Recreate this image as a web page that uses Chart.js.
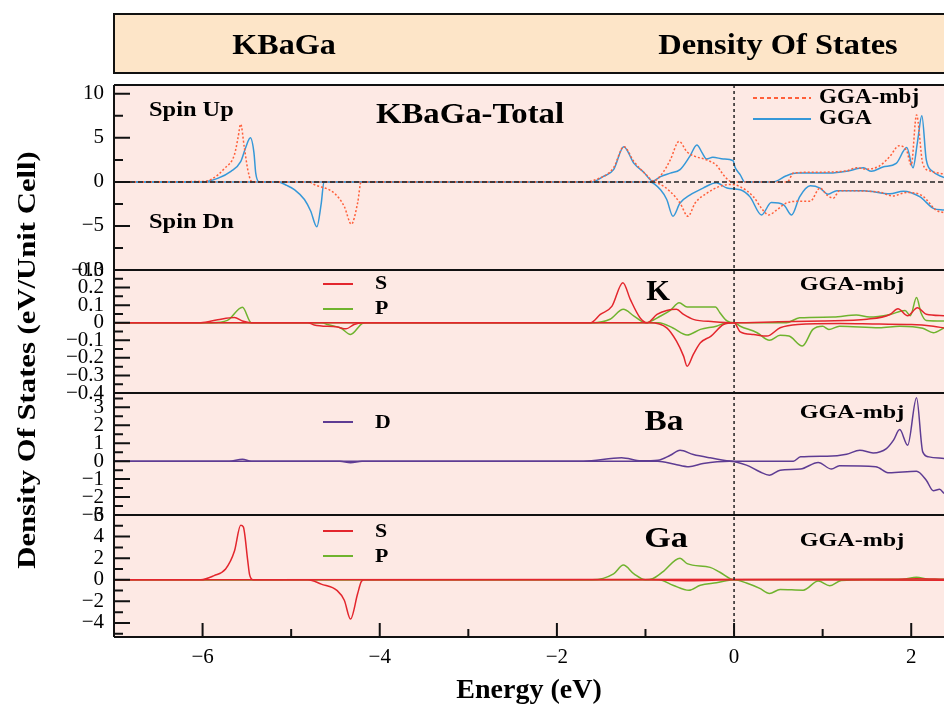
<!DOCTYPE html>
<html>
<head>
<meta charset="utf-8">
<script src="https://cdn.jsdelivr.net/npm/chart.js@4.4.1/dist/chart.umd.min.js"></script>
<style>
  html, body { margin: 0; padding: 0; background: #fff; }
  canvas { display: block; }
</style>
</head>
<body>
<canvas id="dosChart" width="944" height="712"></canvas>
<script>
// tick labels
const energyTicks = [-6, -4, -2, 0, 2];
const totalTicks = [-10, -5, 0, 5, 10];
const kTicks = [-0.4, -0.3, -0.2, -0.1, 0, 0.1, 0.2, 0.3];
const baTicks = [-3, -2, -1, 0, 1, 2, 3];
const gaTicks = [-4, -2, 0, 2, 4, 6];

// KBaGa total DOS - GGA (spin up / spin down)
const ggaUpE = [-7, -6.0, -5.83, -5.68, -5.57, -5.51, -5.46, -5.42, -5.40, -5.36, -1.6, -1.48, -1.36, -1.245, -1.13, -1.02, -0.92, -0.83, -0.72, -0.61, -0.5, -0.42, -0.36, -0.31, -0.24, -0.12, -0.01, 0.01, 0.07, 0.12, 0.44, 0.59, 0.71, 1.08, 1.27, 1.46, 1.55, 1.68, 1.83, 1.95, 2.02, 2.07, 2.12, 2.17, 2.24, 2.37];
const ggaUpV = [0, 0, 0.4, 1.2, 2.3, 4.0, 5.0, 3.3, 1.0, 0, 0, 0.6, 1.4, 4.0, 2.1, 1.1, 0.1, 0.6, 1.0, 1.4, 2.9, 4.2, 3.3, 2.6, 2.8, 2.6, 2.4, 1.7, 0.8, 0, 0, 0.7, 1.0, 1.0, 1.2, 1.6, 1.2, 1.7, 2.1, 3.9, 1.6, 4.5, 7.5, 2.5, 1.2, 0.5];
const ggaDnE = [-7, -5.15, -5.05, -4.96, -4.85, -4.78, -4.71, -4.66, -4.63, -0.95, -0.83, -0.76, -0.69, -0.61, -0.5, -0.35, -0.2, -0.08, 0.07, 0.18, 0.31, 0.42, 0.56, 0.65, 0.74, 0.86, 0.97, 1.06, 1.16, 1.46, 1.76, 1.91, 2.1, 2.25, 2.37];
const ggaDnV = [0, 0, -0.4, -0.9, -2.0, -3.3, -5.1, -2.4, 0, 0, -0.9, -2.0, -3.9, -2.4, -1.5, -0.7, -0.1, -0.7, -0.9, -1.7, -3.75, -2.35, -2.6, -3.75, -1.7, -0.45, -0.7, -1.4, -1.0, -1.0, -1.35, -1.05, -1.7, -3.0, -3.2];

// KBaGa total DOS - GGA-mbj
const mbjUpE = [-7, -6.0, -5.9, -5.75, -5.64, -5.6, -5.57, -5.53, -5.49, -5.45, -5.4, -1.7, -1.55, -1.36, -1.245, -1.13, -0.98, -0.91, -0.8, -0.72, -0.62, -0.53, -0.44, -0.31, -0.2, -0.12, -0.05, 0, 0.6, 0.67, 0.91, 1.27, 1.38, 1.5, 1.64, 1.76, 1.86, 1.95, 2.0, 2.06, 2.13, 2.21, 2.37];
const mbjUpV = [0, 0.05, 0.3, 1.55, 3.1, 5.0, 6.55, 4.0, 1.4, 0.1, 0, 0, 0.3, 1.6, 4.0, 2.3, 0.7, 0.1, 1.1, 2.5, 4.6, 3.4, 2.9, 2.5, 1.9, 0.8, 0.1, 0, 0, 1.0, 1.1, 1.25, 1.6, 1.45, 1.8, 2.9, 4.1, 3.5, 1.9, 7.6, 2.1, 1.25, 0.9];
const mbjDnE = [-7, -4.8, -4.74, -4.51, -4.4, -4.32, -4.25, -4.21, -0.95, -0.87, -0.72, -0.61, -0.52, -0.44, -0.31, -0.16, -0.03, 0.07, 0.22, 0.31, 0.39, 0.48, 0.59, 0.74, 0.86, 0.97, 1.05, 1.12, 1.19, 1.64, 1.79, 1.95, 2.13, 2.28, 2.37];
const mbjDnV = [0, 0, -0.3, -1.3, -2.8, -4.8, -2.4, 0, 0, -0.1, -1.1, -2.4, -3.9, -2.4, -1.3, -0.5, -0.3, -0.55, -1.7, -3.0, -3.75, -3.2, -2.4, -2.2, -2.2, -0.7, -1.5, -1.85, -1.0, -1.15, -1.6, -1.2, -1.6, -3.2, -3.5];

// K partial DOS (GGA-mbj)
const kSUpE = [-7, -6.02, -5.83, -5.64, -5.55, -5.45, -1.62, -1.51, -1.38, -1.255, -1.17, -1.06, -0.98, -0.87, -0.76, -0.65, -0.57, -0.46, -0.23, 0, 0.5, 1.0, 1.5, 1.76, 1.85, 1.96, 2.07, 2.17, 2.37];
const kSUpV = [0, 0, 0.017, 0.03, 0.01, 0, 0, 0.047, 0.093, 0.228, 0.131, 0.027, 0, 0.047, 0.07, 0.076, 0.047, 0.019, 0.006, 0, 0.005, 0.01, 0.02, 0.047, 0.08, 0.04, 0.085, 0.048, 0.04];
const kSDnE = [-7, -4.81, -4.74, -4.48, -4.38, -4.29, -4.2, -0.95, -0.76, -0.65, -0.57, -0.53, -0.46, -0.38, -0.26, -0.12, 0, 0.07, 0.22, 0.37, 0.52, 0.72, 1.2, 1.64, 2.0, 2.25, 2.37];
const kSDnV = [0, 0, -0.013, -0.025, -0.035, -0.01, 0, 0, -0.029, -0.105, -0.19, -0.248, -0.18, -0.114, -0.076, -0.01, 0, -0.052, -0.067, -0.076, -0.029, -0.01, -0.005, -0.008, -0.01, -0.02, -0.03];
const kPUpE = [-7, -5.9, -5.72, -5.55, -5.45, -1.6, -1.4, -1.25, -1.13, -1.0, -0.83, -0.72, -0.62, -0.53, -0.21, -0.16, -0.08, 0, 0.59, 0.74, 1.12, 1.38, 1.53, 1.76, 1.93, 1.99, 2.06, 2.11, 2.17, 2.37];
const kPUpV = [0, 0, 0.013, 0.088, 0, 0, 0.02, 0.076, 0.038, 0, 0.038, 0.07, 0.114, 0.09, 0.09, 0.057, 0.01, 0, 0, 0.028, 0.032, 0.044, 0.032, 0.047, 0.07, 0.04, 0.143, 0.057, 0.013, 0.01];
const kPDnE = [-7, -4.65, -4.59, -4.44, -4.33, -4.2, -4.15, -0.85, -0.69, -0.53, -0.38, -0.2, -0.08, 0, 0.07, 0.26, 0.4, 0.52, 0.62, 0.77, 0.89, 1.0, 1.07, 1.19, 1.64, 1.87, 2.13, 2.25, 2.37];
const kPDnV = [0, 0, -0.01, -0.03, -0.067, -0.005, 0, 0, -0.03, -0.07, -0.038, -0.02, 0, 0, -0.02, -0.057, -0.1, -0.072, -0.076, -0.133, -0.038, -0.02, -0.038, -0.02, -0.029, -0.02, -0.032, -0.057, -0.029];

// Ba partial DOS (GGA-mbj)
const baDUpE = [-7, -5.7, -5.55, -5.45, -1.7, -1.27, -1.05, -0.86, -0.72, -0.61, -0.46, -0.27, 0, 0.67, 0.75, 1.05, 1.27, 1.42, 1.57, 1.72, 1.8, 1.87, 1.96, 2.06, 2.13, 2.2, 2.37];
const baDUpV = [0, 0, 0.11, 0, 0, 0.19, 0.02, 0.05, 0.33, 0.61, 0.37, 0.19, 0, 0, 0.24, 0.28, 0.39, 0.61, 0.46, 0.7, 1.17, 1.76, 0.89, 3.54, 0.52, 0.24, 0.15];
const baDDnE = [-7, -4.45, -4.33, -4.2, -0.86, -0.67, -0.51, -0.35, -0.05, 0.14, 0.29, 0.4, 0.52, 0.75, 0.95, 1.1, 1.19, 1.6, 1.75, 2.06, 2.17, 2.25, 2.32, 2.37];
const baDDnV = [0, 0, -0.09, 0, 0, -0.17, -0.31, -0.13, 0, -0.22, -0.59, -0.78, -0.5, -0.44, -0.07, -0.44, -0.26, -0.31, -0.65, -0.56, -1.06, -1.65, -1.57, -1.8];

// Ga partial DOS (GGA-mbj)
const gaSUpE = [-7, -6.02, -5.87, -5.74, -5.64, -5.57, -5.54, -5.49, -5.47, -5.43, 1.8, 2.06, 2.37];
const gaSUpV = [0, 0, 0.39, 1.0, 2.66, 5.06, 4.9, 1.75, 0.5, 0, 0.05, 0.1, 0.05];
const gaSDnE = [-7, -4.81, -4.66, -4.48, -4.4, -4.33, -4.25, -4.21, -4.18, -1.0, -0.5, 0, 2.37];
const gaSDnV = [0, 0, -0.4, -1.0, -1.9, -3.64, -1.3, -0.2, 0, 0, -0.08, 0, -0.05];
const gaPUpE = [-7, -1.6, -1.36, -1.25, -1.13, -1.0, -0.92, -0.81, -0.61, -0.53, -0.27, -0.16, 0, 1.9, 2.06, 2.2, 2.37];
const gaPUpV = [0, 0, 0.55, 1.36, 0.55, 0, 0.1, 0.7, 2.0, 1.5, 1.15, 0.7, 0, 0.05, 0.24, 0.05, 0.05];
const gaPDnE = [-7, -0.85, -0.69, -0.51, -0.38, -0.2, 0, 0.14, 0.29, 0.4, 0.52, 0.78, 0.95, 1.08, 1.21, 1.5, 2.37];
const gaPDnV = [0, 0, -0.5, -0.97, -0.5, -0.27, 0, -0.3, -0.8, -1.27, -0.9, -0.97, -0.12, -0.55, -0.06, 0, -0.05];

const BLUE = '#3598d8';
const ORANGE = '#ff5f3a';
const RED = '#e3262d';
const GREEN = '#6fb32e';
const PURPLE = '#5e3c93';
const SERIF = "'Liberation Serif', 'DejaVu Serif', serif";

const pts = (es, vs) => es.map((e, i) => ({ x: e, y: vs[i] }));

function line(es, vs, color, axis, dash) {
  return {
    data: pts(es, vs),
    yAxisID: axis,
    borderColor: color,
    borderWidth: 1.5,
    borderDash: dash || [],
    pointRadius: 0,
    fill: false,
    cubicInterpolationMode: 'monotone'
  };
}

const fmt = v => {
  const r = Math.round(v * 10) / 10;
  return r < 0 ? '\u2212' + Math.abs(r) : String(r);
};

const tickFont = { family: SERIF, size: 21 };

function yScale(min, max, ticks, weight) {
  return {
    type: 'linear',
    position: 'left',
    stack: 'dos',
    stackWeight: weight,
    min: min,
    max: max,
    afterBuildTicks: s => { s.ticks = ticks.map(v => ({ value: v })); },
    afterFit: s => { s.width = 114; },
    grid: { display: false, drawTicks: false },
    border: { display: false },
    ticks: { font: tickFont, color: '#000', padding: 10, autoSkip: false, callback: fmt }
  };
}

function inwardTicks(ctx, scale, axisPos, minor, major, lenMajor, lenMinor, vertical) {
  const start = Math.ceil(scale.min / minor - 1e-6) * minor;
  ctx.beginPath();
  for (let v = start; v <= scale.max + 1e-6; v += minor) {
    const isMajor = Math.abs(v / major - Math.round(v / major)) < 1e-6;
    const len = isMajor ? lenMajor : lenMinor;
    const p = scale.getPixelForValue(v);
    if (vertical) {
      ctx.moveTo(axisPos, p);
      ctx.lineTo(axisPos + len, p);
    } else {
      ctx.moveTo(p, axisPos);
      ctx.lineTo(p, axisPos - len);
    }
  }
  ctx.stroke();
}

// bold serif text, sx widens it like the stretched original figure
function text(ctx, str, x, y, size, align, sx) {
  ctx.save();
  ctx.translate(x, y);
  ctx.scale(sx || 1, 1);
  ctx.font = 'bold ' + size + 'px ' + SERIF;
  ctx.textAlign = align || 'left';
  ctx.textBaseline = 'middle';
  ctx.fillText(str, 0, 0);
  ctx.restore();
}

function legendLine(ctx, x1, x2, y, color, dash) {
  ctx.save();
  ctx.strokeStyle = color;
  ctx.lineWidth = 2;
  ctx.setLineDash(dash || []);
  ctx.beginPath();
  ctx.moveTo(x1, y);
  ctx.lineTo(x2, y);
  ctx.stroke();
  ctx.restore();
}

const dosFrame = {
  id: 'dosFrame',
  beforeDraw(chart) {
    const { ctx, chartArea: a } = chart;
    ctx.save();
    ctx.fillStyle = '#fff';
    ctx.fillRect(0, 0, chart.width, chart.height);
    // header banner
    ctx.fillStyle = '#fde5c8';
    ctx.fillRect(114, 14, 840, 59);
    ctx.strokeStyle = '#111';
    ctx.lineWidth = 2;
    ctx.strokeRect(114, 14, 840, 59);
    ctx.fillStyle = '#000';
    text(ctx, 'KBaGa', 284, 46, 30, 'center', 1.07);
    text(ctx, 'Density Of States', 778, 46, 30, 'center', 1.08);
    // panel background
    ctx.fillStyle = '#fde9e4';
    ctx.fillRect(a.left, a.top, a.right - a.left, a.bottom - a.top);
    ctx.restore();
  },
  afterDatasetsDraw(chart) {
    const { ctx, chartArea: a, scales } = chart;
    const x = scales.x;
    ctx.save();
    ctx.strokeStyle = '#222';
    ctx.lineWidth = 1.5;
    // zero line in total panel
    ctx.setLineDash([5, 3]);
    const y0 = scales.yTot.getPixelForValue(0);
    ctx.beginPath();
    ctx.moveTo(a.left, y0);
    ctx.lineTo(a.right, y0);
    ctx.stroke();
    // Fermi level
    ctx.setLineDash([3, 3]);
    const xf = x.getPixelForValue(0);
    ctx.beginPath();
    ctx.moveTo(xf, a.top);
    ctx.lineTo(xf, a.bottom);
    ctx.stroke();
    ctx.setLineDash([]);

    // panel frames
    ctx.strokeStyle = '#111';
    ctx.lineWidth = 2;
    const panels = [scales.yTot, scales.yK, scales.yBa, scales.yGa];
    ctx.beginPath();
    panels.forEach(s => {
      ctx.moveTo(a.left, s.top);
      ctx.lineTo(a.right, s.top);
      ctx.moveTo(a.left, s.bottom);
      ctx.lineTo(a.right, s.bottom);
    });
    ctx.moveTo(a.left, a.top);
    ctx.lineTo(a.left, a.bottom);
    ctx.stroke();

    // inward ticks
    inwardTicks(ctx, scales.yTot, a.left, 2.5, 5, 16, 9, true);
    inwardTicks(ctx, scales.yK, a.left, 0.05, 0.1, 16, 9, true);
    inwardTicks(ctx, scales.yBa, a.left, 0.5, 1, 16, 9, true);
    inwardTicks(ctx, scales.yGa, a.left, 1, 2, 16, 9, true);
    inwardTicks(ctx, x, a.bottom, 1, 2, 14, 8, false);

    // annotations
    ctx.fillStyle = '#000';
    text(ctx, 'Spin Up', 149, 111, 20, 'left', 1.22);
    text(ctx, 'Spin Dn', 149, 223, 20, 'left', 1.22);
    text(ctx, 'KBaGa-Total', 470, 116, 29, 'center', 1.13);
    legendLine(ctx, 753, 811, 98, ORANGE, [4, 3]);
    legendLine(ctx, 753, 811, 119, BLUE);
    text(ctx, 'GGA-mbj', 819, 98, 21, 'left', 1.1);
    text(ctx, 'GGA', 819, 119, 21, 'left', 1.1);

    legendLine(ctx, 323, 353, 284, RED);
    legendLine(ctx, 323, 353, 309, GREEN);
    text(ctx, 'S', 375, 284, 19, 'left', 1.15);
    text(ctx, 'P', 375, 309, 19, 'left', 1.15);
    text(ctx, 'K', 658, 293, 29, 'center', 1.05);
    text(ctx, 'GGA-mbj', 852, 285, 19, 'center', 1.27);

    legendLine(ctx, 323, 353, 422, PURPLE);
    text(ctx, 'D', 375, 423, 19, 'left', 1.15);
    text(ctx, 'Ba', 664, 423, 29, 'center', 1.15);
    text(ctx, 'GGA-mbj', 852, 413, 19, 'center', 1.27);

    legendLine(ctx, 323, 353, 531, RED);
    legendLine(ctx, 323, 353, 556, GREEN);
    text(ctx, 'S', 375, 532, 19, 'left', 1.15);
    text(ctx, 'P', 375, 557, 19, 'left', 1.15);
    text(ctx, 'Ga', 666, 540, 29, 'center', 1.18);
    text(ctx, 'GGA-mbj', 852, 541, 19, 'center', 1.27);

    // shared y title
    ctx.translate(28, 360);
    ctx.rotate(-Math.PI / 2);
    text(ctx, 'Density Of States (eV/Unit Cell)', 0, 0, 26, 'center', 1.18);
    ctx.restore();
  }
};

const ctx = document.getElementById('dosChart').getContext('2d');
new Chart(ctx, {
  type: 'line',
  data: {
    datasets: [
      line(mbjUpE, mbjUpV, ORANGE, 'yTot', [2, 2]),
      line(mbjDnE, mbjDnV, ORANGE, 'yTot', [2, 2]),
      line(ggaUpE, ggaUpV, BLUE, 'yTot'),
      line(ggaDnE, ggaDnV, BLUE, 'yTot'),
      line(kSUpE, kSUpV, RED, 'yK'),
      line(kSDnE, kSDnV, RED, 'yK'),
      line(kPUpE, kPUpV, GREEN, 'yK'),
      line(kPDnE, kPDnV, GREEN, 'yK'),
      line(baDUpE, baDUpV, PURPLE, 'yBa'),
      line(baDDnE, baDDnV, PURPLE, 'yBa'),
      line(gaSUpE, gaSUpV, RED, 'yGa'),
      line(gaSDnE, gaSDnV, RED, 'yGa'),
      line(gaPUpE, gaPUpV, GREEN, 'yGa'),
      line(gaPDnE, gaPDnV, GREEN, 'yGa')
    ]
  },
  options: {
    responsive: false,
    animation: false,
    devicePixelRatio: 1,
    layout: { padding: { top: 85, left: 0, right: 0, bottom: 0 } },
    plugins: { legend: { display: false }, tooltip: { enabled: false } },
    scales: {
      x: {
        type: 'linear',
        min: -7,
        max: 2.37,
        afterBuildTicks: s => { s.ticks = energyTicks.map(v => ({ value: v })); },
        afterFit: s => { s.height = 75; },
        grid: { display: false, drawTicks: false },
        border: { display: false },
        ticks: { font: tickFont, color: '#000', padding: 8, autoSkip: false, maxRotation: 0, callback: fmt },
        title: { display: true, text: 'Energy (eV)', color: '#000', font: { family: SERIF, size: 28, weight: 'bold' }, padding: { top: 0, bottom: 4 } }
      },
      // stacked axes are laid out bottom-up, so the lowest panel comes first
      yGa: yScale(-5.3, 6, gaTicks, 122),
      yBa: yScale(-3, 3.8, baTicks, 122),
      yK: yScale(-0.4, 0.3, kTicks, 123),
      yTot: yScale(-10, 11, totalTicks, 185)
    }
  },
  plugins: [dosFrame]
});
</script>
</body>
</html>
